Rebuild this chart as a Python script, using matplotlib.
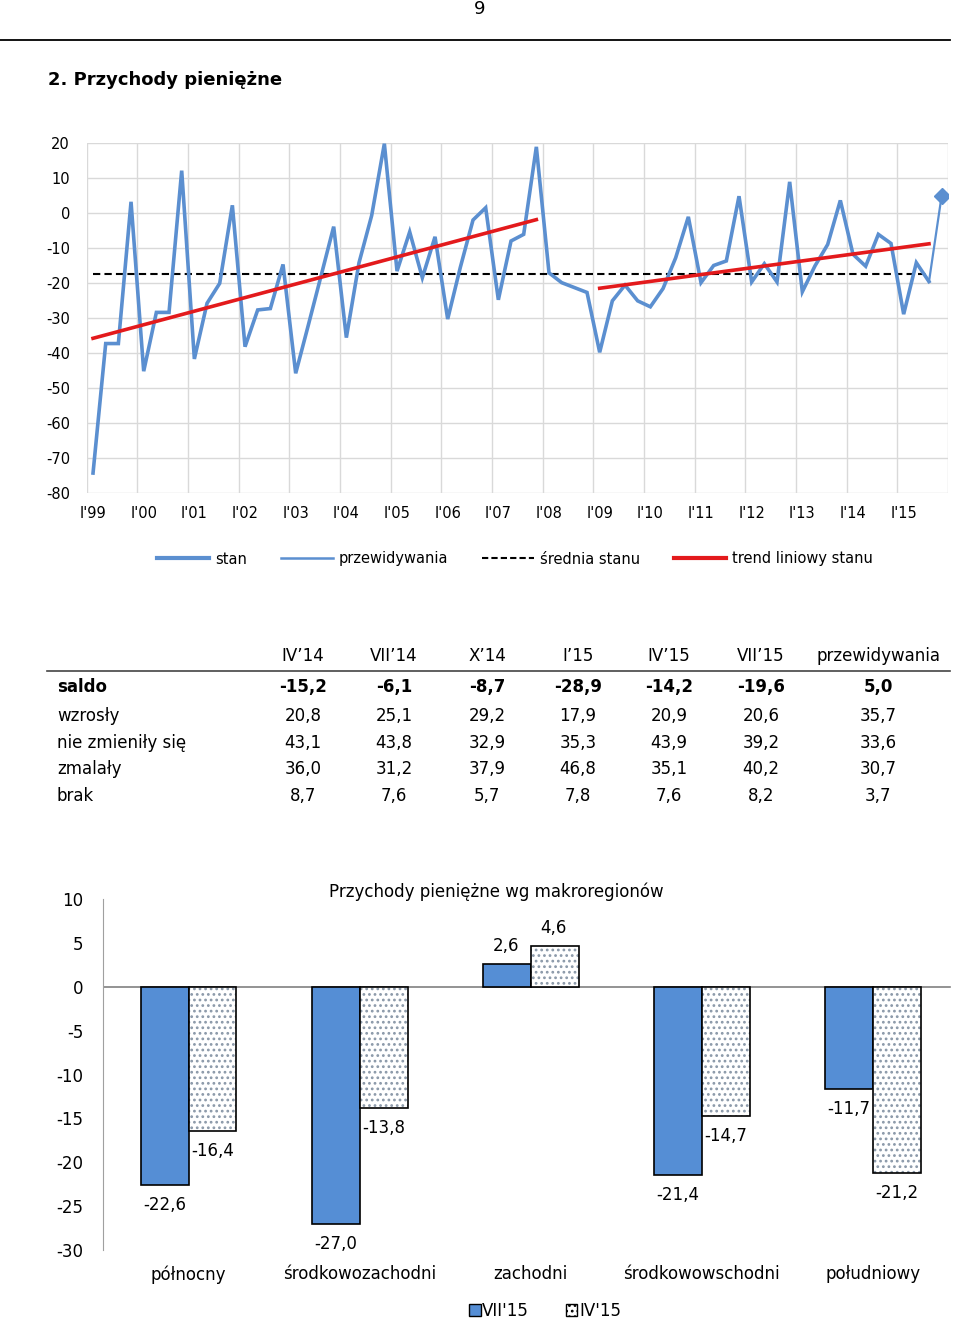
import matplotlib
matplotlib.use('Agg')
import numpy as np
import matplotlib.pyplot as plt
from matplotlib.lines import Line2D
from matplotlib.patches import Patch

plt.rcParams['font.family'] = ['DejaVu Sans']
plt.rcParams['axes.unicode_minus'] = False
plt.rcParams['hatch.linewidth'] = 1.2

# saldo ocen przychodow pienieznych, kwartalnie I'99 .. VII'15
stan = [-74.3, -37.3, -37.3, 3.2, -45.2, -28.4, -28.4, 12.1,
        -41.7, -25.8, -20.1, 2.2, -38.2, -27.7, -27.3, -14.7,
        -45.8, -32.0, -18.0, -3.9, -35.6, -14.2, -0.7, 19.8,
        -16.6, -5.4, -18.5, -6.8, -30.3, -15.5, -2.0, 1.5,
        -24.8, -8.0, -6.1, 18.9, -17.1, -19.9, -21.3, -22.7,
        -39.8, -25.1, -20.6, -25.1, -26.8, -21.6, -12.8, -1.1,
        -19.9, -15.0, -13.7, 4.8, -19.7, -14.5, -19.7, 8.9,
        -22.5, -15.1, -9.0, 3.6, -11.8, -15.2, -6.1, -8.7,
        -28.9, -14.2, -19.6]
prognoza = 5.0
years = ["I'%02d" % (y % 100) for y in range(1999, 2016)]
trend1_idx, trend1_val = [0, 35], [-35.8, -1.9]
trend2_idx, trend2_val = [40, 66], [-21.5, -8.8]

tab_cols = ['IV\u201914', 'VII\u201914', 'X\u201914', 'I\u201915', 'IV\u201915', 'VII\u201915', 'przewidywania']
tab_rows = ['saldo', 'wzrosły', 'nie zmieniły się', 'zmalały', 'brak']
tab_vals = [[-15.2, -6.1, -8.7, -28.9, -14.2, -19.6, 5.0],
            [20.8, 25.1, 29.2, 17.9, 20.9, 20.6, 35.7],
            [43.1, 43.8, 32.9, 35.3, 43.9, 39.2, 33.6],
            [36.0, 31.2, 37.9, 46.8, 35.1, 40.2, 30.7],
            [8.7, 7.6, 5.7, 7.8, 7.6, 8.2, 3.7]]

regiony = ['północny', 'środkowozachodni', 'zachodni', 'środkowowschodni', 'południowy']
vii15 = [-22.6, -27.0, 2.6, -21.4, -11.7]
iv15 = [-16.4, -13.8, 4.6, -14.7, -21.2]

W, H = 960, 1321
BLUE = '#5B8FD0'
BARBLUE = '#558ED5'

def fx(x):
    return x / W

def fy(y):
    return 1 - y / H

def pl(v):
    return ('%.1f' % v).replace('.', ',')

fig = plt.figure(figsize=(W / 100, H / 100), dpi=100)
fig.patch.set_facecolor('white')

# naglowek strony
fig.text(fx(480), fy(9), '9', ha='center', va='center', fontsize=13)
fig.add_artist(Line2D([0, fx(950)], [fy(40), fy(40)], color='black', lw=1.3))
fig.text(fx(48), fy(80), '2. Przychody pieniężne', ha='left', va='center',
         fontsize=13, fontweight='bold')

# wykres liniowy
ax = fig.add_axes([fx(86.7), fy(493), fx(948) - fx(86.7), fy(143) - fy(493)])
n = len(stan)
x = np.arange(n)
ax.set_xlim(-0.5, n + 0.5)
ax.set_ylim(-80, 20)
ax.set_yticks(range(-80, 21, 10))
for k in range(0, n + 2, 4):
    ax.axvline(k - 0.5, color='#d9d9d9', lw=1, zorder=0)
for v in range(-80, 21, 10):
    ax.axhline(v, color='#d9d9d9', lw=1, zorder=0)
for s in ax.spines.values():
    s.set_visible(False)
ax.set_xticks(np.arange(0, len(years) * 4, 4))
ax.set_xticklabels(years)
ax.tick_params(length=0, labelsize=10.5)
ax.tick_params(axis='y', pad=12)
ax.tick_params(axis='x', pad=9)

srednia = np.mean(stan)
ax.plot([0, n - 1], [srednia, srednia], color='black', lw=1.5, ls=(0, (3.5, 2)), zorder=2)
ax.plot(x, stan, color=BLUE, lw=2.6, zorder=3, solid_joinstyle='miter')
ax.plot([n - 1, n], [stan[-1], prognoza], color=BLUE, lw=1.6, zorder=3)
ax.plot([n], [prognoza], marker='D', color=BLUE, ms=8, zorder=4)
ax.plot(trend1_idx, trend1_val, color='#e31a1c', lw=2.6, zorder=4)
ax.plot(trend2_idx, trend2_val, color='#e31a1c', lw=2.6, zorder=4)

handles = [Line2D([], [], color=BLUE, lw=3),
           Line2D([], [], color=BLUE, lw=1.8),
           Line2D([], [], color='black', lw=1.5, ls=(0, (3, 1.5))),
           Line2D([], [], color='#e31a1c', lw=3)]
labels = ['stan', 'przewidywania', 'średnia stanu', 'trend liniowy stanu']
fig.legend(handles, labels, loc='center', bbox_to_anchor=(fx(515), fy(559)), ncol=4,
           frameon=False, fontsize=10.5, handlelength=3.6, handletextpad=0.4,
           columnspacing=2.3)

# tabela
col_x = [303, 394, 487, 578, 669, 761, 878]
row_y = [687, 716, 743, 769, 796]
for cx, c in zip(col_x, tab_cols):
    fig.text(fx(cx), fy(656), c, ha='center', va='center', fontsize=12)
fig.add_artist(Line2D([fx(47), fx(950)], [fy(671), fy(671)], color='#444444', lw=1.2))
for r, (ry, name) in enumerate(zip(row_y, tab_rows)):
    bold = 'bold' if r == 0 else 'normal'
    fig.text(fx(57), fy(ry), name, ha='left', va='center', fontsize=12, fontweight=bold)
    for cx, v in zip(col_x, tab_vals[r]):
        fig.text(fx(cx), fy(ry), pl(v), ha='center', va='center', fontsize=12,
                 fontweight=bold)

# wykres slupkowy
bx = fig.add_axes([fx(103), fy(1250), fx(958.5) - fx(103), fy(899) - fy(1250)])
g = np.arange(len(regiony))
bw = 0.28
bx.bar(g - bw / 2, vii15, bw, color=BARBLUE, edgecolor='black', lw=1.2, zorder=3)
bx.bar(g + bw / 2, iv15, bw, color='white', edgecolor='#8a98a8', hatch='...', lw=0, zorder=3)
bx.bar(g + bw / 2, iv15, bw, color='none', edgecolor='black', lw=1.2, zorder=4)
bx.set_xlim(-0.5, len(regiony) - 0.5)
bx.set_ylim(-30, 10)
bx.set_yticks(range(-30, 11, 5))
bx.plot([-0.5, len(regiony) - 0.55], [0, 0], color='#808080', lw=1.2, zorder=2)
for s in ['top', 'right', 'bottom']:
    bx.spines[s].set_visible(False)
bx.spines['left'].set_color('#a0a0a0')
bx.set_xticks(g)
bx.set_xticklabels(regiony)
bx.tick_params(length=0, labelsize=12)
bx.tick_params(axis='y', pad=14)
bx.tick_params(axis='x', pad=11)
for i in g:
    for off, v in [(-bw / 2, vii15[i]), (bw / 2, iv15[i])]:
        if v < 0:
            bx.annotate(pl(v), (i + off, v), xytext=(0, -20), textcoords='offset pixels',
                        ha='center', va='center', fontsize=12)
        else:
            bx.annotate(pl(v), (i + off, v), xytext=(-1, 18), textcoords='offset pixels',
                        ha='center', va='center', fontsize=12)
bx.text(0.46, 1.02, 'Przychody pieniężne wg makroregionów', transform=bx.transAxes,
        ha='center', va='center', fontsize=12)

bh = [Patch(facecolor=BARBLUE, edgecolor='black', lw=1),
      Patch(facecolor='white', edgecolor='black', hatch='...', lw=1)]
fig.legend(bh, ["VII'15", "IV'15"], loc='center', bbox_to_anchor=(fx(545), fy(1311)),
           ncol=2, frameon=False, fontsize=12, handlelength=0.7, handleheight=0.7,
           handletextpad=0.1, columnspacing=2.2)

fig.savefig('out.png', dpi=100, facecolor='white')
